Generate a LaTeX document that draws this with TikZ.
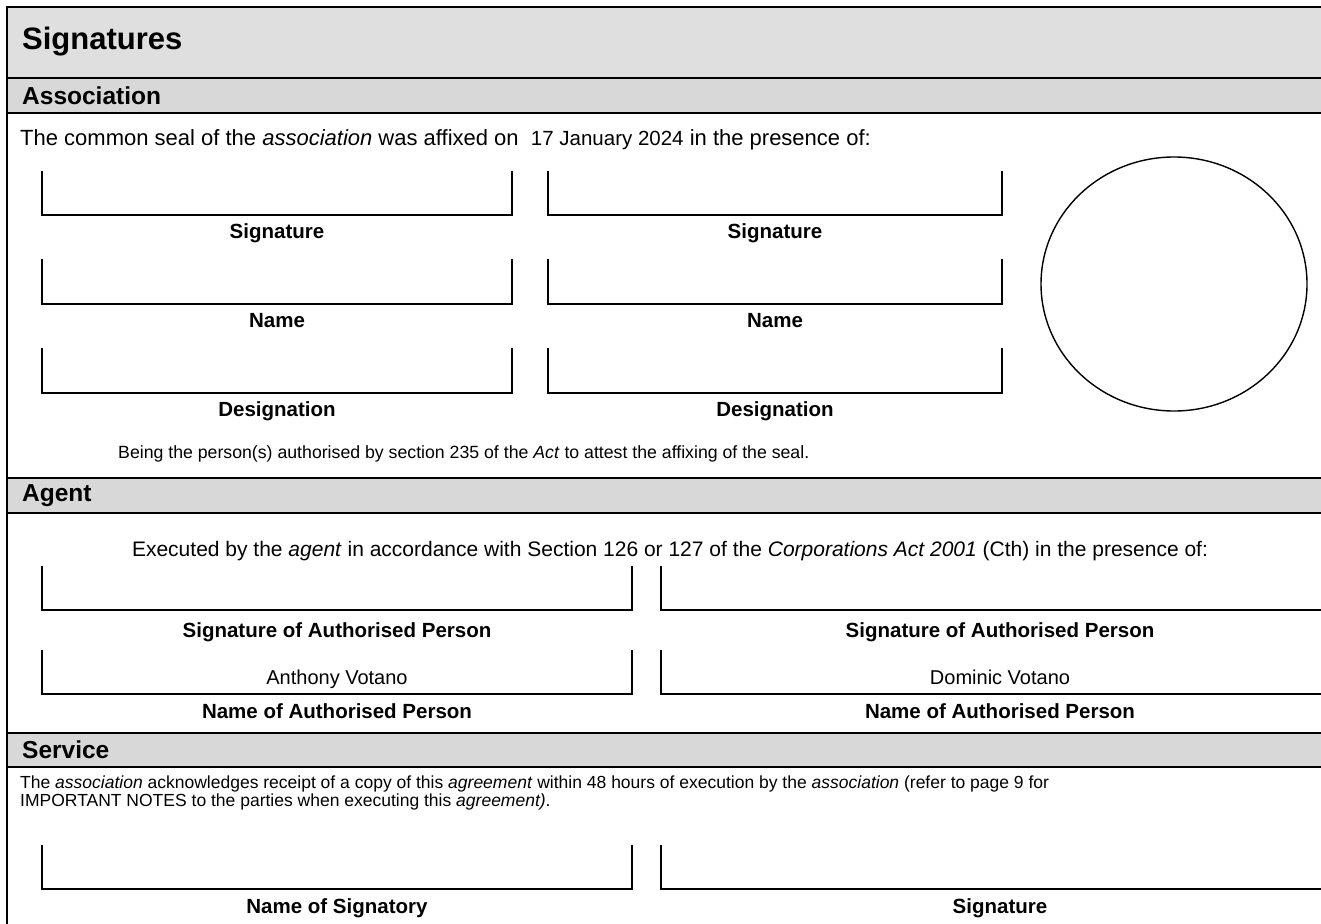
\documentclass[tikz,border=0pt]{standalone}
\usepackage{fontspec}
\setmainfont{Liberation Sans}
\begin{document}
\begin{tikzpicture}[x=1pt,y=-1pt,
  title/.style={anchor=west,inner sep=0pt,font=\fontsize{31}{34}\selectfont\bfseries},
  head/.style={anchor=west,inner sep=0pt,font=\fontsize{24.5}{27}\selectfont\bfseries},
  lbl/.style={anchor=base,inner sep=0pt,font=\fontsize{20.5}{23}\selectfont\bfseries},
  body/.style={inner sep=0pt,font=\fontsize{19}{22}\selectfont},
  bx/.style={line width=1.6pt},
  thick border/.style={line width=2.2pt},
  thin border/.style={line width=1.4pt}]
\useasboundingbox (0,0) rectangle (1321,923);
\begin{scope}
\clip (0,0) rectangle (1321,923);
% bars
\fill[fill={rgb,255:red,223;green,223;blue,223}] (7,7) rectangle (1340,78);
\fill[fill={rgb,255:red,216;green,216;blue,216}] (7,78) rectangle (1340,113);
\fill[fill={rgb,255:red,216;green,216;blue,216}] (7,478) rectangle (1340,513);
\fill[fill={rgb,255:red,216;green,216;blue,216}] (7,733) rectangle (1340,767);
% frame lines
\draw[thick border] (7,7) -- (1340,7);
\draw[thick border] (7,6) -- (7,930);
\draw[thin border] (7,78) -- (1340,78);
\draw[thin border] (7,113) -- (1340,113);
\draw[thick border] (7,478) -- (1340,478);
\draw[thick border] (7,513) -- (1340,513);
\draw[thick border] (7,733) -- (1340,733);
\draw[thick border] (7,767) -- (1340,767);
% association boxes
\foreach \t/\b in {171/215,259/304,348/393}{
  \draw[bx] (42,\t) -- (42,\b) -- (512,\b) -- (512,\t);
  \draw[bx] (548,\t) -- (548,\b) -- (1002,\b) -- (1002,\t);
}
% seal
\draw[line width=1.4pt] (1174,284) ellipse [x radius=133, y radius=127];
% agent boxes
\foreach \t/\b in {566/610,650/694}{
  \draw[bx] (42,\t) -- (42,\b) -- (632,\b) -- (632,\t);
  \draw[bx] (661,\t) -- (661,\b) -- (1340,\b);
}
% service boxes
\draw[bx] (42,845) -- (42,889) -- (632,889) -- (632,845);
\draw[bx] (661,845) -- (661,889) -- (1340,889);
\end{scope}
% texts
\node[title] (ttl) at (22,42) {Signatures};
\node[head] (hass) at (22,96) {Association};
\node[body,anchor=base west,font=\fontsize{22}{24}\selectfont] (seal) at (20,145) {The common seal of the \textit{association} was affixed on\ \ {\fontsize{20.5}{22}\selectfont 17 January 2024} in the presence of:};
\node[lbl] (s1) at (277,238) {Signature};
\node[lbl] (s2) at (775,238) {Signature};
\node[lbl] (n1) at (277,327) {Name};
\node[lbl] (n2) at (775,327) {Name};
\node[lbl] (d1) at (277,416) {Designation};
\node[lbl] (d2) at (775,416) {Designation};
\node[body,anchor=base west,font=\fontsize{17.7}{20}\selectfont] (being) at (118,458) {Being the person(s) authorised by section 235 of the \textit{Act} to attest the affixing of the seal.};
\node[head] (hag) at (22,496) {Agent};
\node[body,anchor=base,font=\fontsize{21}{23}\selectfont] (exec) at (670,556) {Executed by the \textit{agent} in accordance with Section 126 or 127 of the \textit{Corporations Act 2001} (Cth) in the presence of:};
\node[lbl] (sap1) at (337,637) {Signature of Authorised Person};
\node[lbl] (sap2) at (1000,637) {Signature of Authorised Person};
\node[body,anchor=base,font=\fontsize{20}{23}\selectfont] (nm1) at (337,684) {Anthony Votano};
\node[body,anchor=base,font=\fontsize{20}{23}\selectfont] (nm2) at (1000,684) {Dominic Votano};
\node[lbl] (nap1) at (337,718) {Name of Authorised Person};
\node[lbl] (nap2) at (1000,718) {Name of Authorised Person};
\node[head] (hsv) at (22,750) {Service};
\node[body,anchor=north west,align=left,font=\fontsize{17.5}{17.5}\selectfont] (svc) at (20,776) {The \textit{association} acknowledges receipt of a copy of this \textit{agreement} within 48 hours of execution by the \textit{association} (refer to page 9 for\\IMPORTANT NOTES to the parties when executing this \textit{agreement)}.};
\node[lbl] (ns) at (337,913) {Name of Signatory};
\node[lbl] (sg) at (1000,913) {Signature};
\end{tikzpicture}
\end{document}
